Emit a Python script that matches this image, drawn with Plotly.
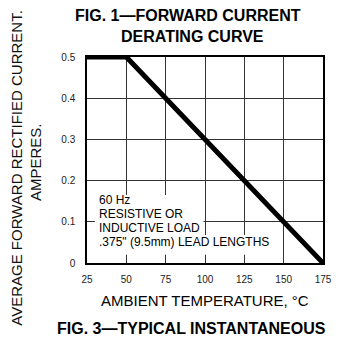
import plotly.graph_objects as go

# ---- data ----
temperature_c = [25, 50, 175]
current_a = [0.5, 0.5, 0.0]
x_ticks = [25, 50, 75, 100, 125, 150, 175]
y_ticks = [0, 0.1, 0.2, 0.3, 0.4, 0.5]
y_tick_labels = ["0", "0.1", "0.2", "0.3", "0.4", "0.5"]
note_lines = ["60 Hz", "RESISTIVE OR", "INDUCTIVE LOAD", ".375\" (9.5mm) LEAD LENGTHS"]

W, H = 341, 340
L, R, T, B = 87, 9, 57, 77
PW, PH = W - L - R, H - T - B

def px(x):
    return (x - L) / PW

def py(y):
    return (H - B - y) / PH

FONT = "Liberation Sans, Arial, Helvetica, sans-serif"

fig = go.Figure()
fig.add_trace(go.Scatter(x=temperature_c, y=current_a, mode="lines",
                         line=dict(color="black", width=5), showlegend=False,
                         hoverinfo="skip"))

# white masks behind the note text (hide grid lines)
fig.add_shape(type="rect", xref="x", yref="y", x0=30, x1=99, y0=0.02, y1=0.165,
              fillcolor="white", line=dict(width=0), layer="between")
fig.add_shape(type="rect", xref="x", yref="y", x0=99, x1=141, y0=0.02, y1=0.068,
              fillcolor="white", line=dict(width=0), layer="between")

anns = []
# titles
anns.append(dict(text="<b>FIG. 1—FORWARD CURRENT</b>", x=px(192), y=py(15),
                 font=dict(size=16, family=FONT, color="black")))
anns.append(dict(text="<b>DERATING CURVE</b>", x=px(197), y=py(36),
                 font=dict(size=16, family=FONT, color="black")))
anns.append(dict(text="AMBIENT TEMPERATURE, °C", x=px(209), y=py(300),
                 font=dict(size=15, family=FONT, color="black")))
anns.append(dict(text="<b>FIG. 3—TYPICAL INSTANTANEOUS</b>", x=px(195), y=py(328),
                 font=dict(size=16, family=FONT, color="black")))
anns.append(dict(text="AVERAGE FORWARD RECTIFIED CURRENT.", x=px(13), y=py(168),
                 textangle=-90, font=dict(size=15, family=FONT, color="#111")))
anns.append(dict(text="AMPERES.", x=px(33), y=py(162),
                 textangle=-90, font=dict(size=15, family=FONT, color="#111")))
for i, line in enumerate(note_lines):
    anns.append(dict(text=line, x=px(97), y=py(200 + i * 14), xanchor="left",
                     font=dict(size=12, family=FONT, color="black")))
for a in anns:
    a.setdefault("xref", "paper")
    a.setdefault("yref", "paper")
    a.setdefault("showarrow", False)
    a.setdefault("xanchor", "center")
    a.setdefault("yanchor", "middle")

fig.update_layout(
    width=W, height=H,
    margin=dict(l=L, r=R, t=T, b=B, pad=0),
    paper_bgcolor="white", plot_bgcolor="white",
    font=dict(family=FONT, color="#222"),
    annotations=anns,
    showlegend=False,
)
fig.update_xaxes(range=[25, 175], tickvals=x_ticks, showgrid=True, gridcolor="#333",
                 gridwidth=1, showline=True, mirror=True, linecolor="black", linewidth=1.5,
                 ticks="inside", ticklen=8, tickcolor="#333", tickwidth=1, zeroline=False,
                 tickfont=dict(size=10, family=FONT, color="#222"), ticklabelstandoff=6)
fig.update_yaxes(range=[0, 0.5], tickvals=y_ticks, ticktext=y_tick_labels, showgrid=True,
                 gridcolor="#333", gridwidth=1, showline=True, mirror=True,
                 linecolor="black", linewidth=1.5, ticks="", zeroline=False,
                 tickfont=dict(size=10, family=FONT, color="#222"), ticklabelstandoff=8)

fig.write_html("out.html", config={"displayModeBar": False},
               post_script="document.body.style.margin='0';document.body.style.overflow='hidden';")
